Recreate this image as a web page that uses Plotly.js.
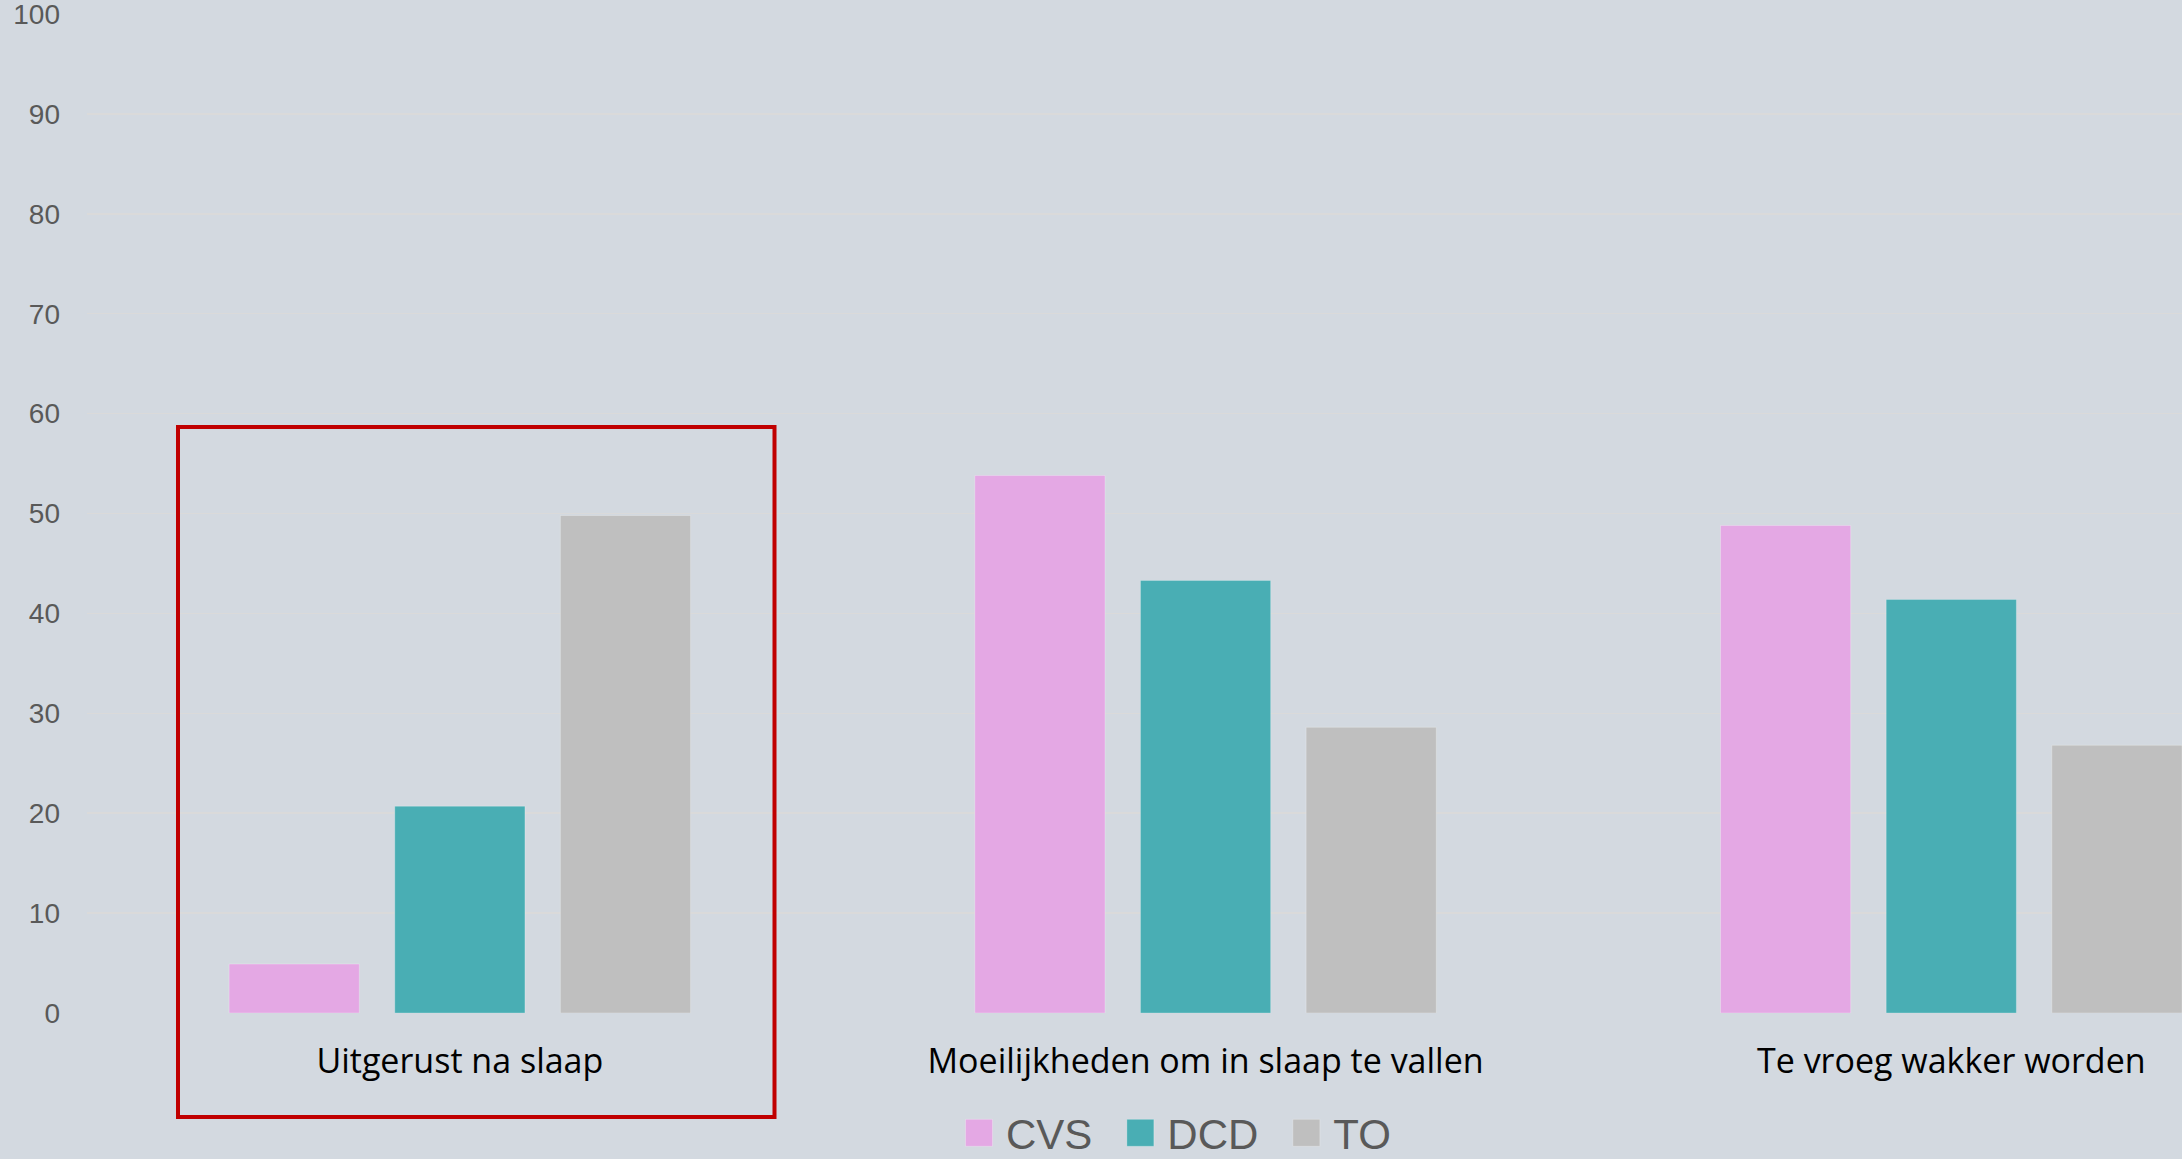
<!DOCTYPE html>
<html>
<head>
<meta charset="utf-8">
<script src="https://cdn.plot.ly/plotly-3.0.1.min.js"></script>
<style>
  html, body { margin: 0; padding: 0; background: #d3d9e0; }
  #chart { width: 2182px; height: 1159px; }
</style>
</head>
<body>
<div id="chart"></div>
<script>
const categories = ["Uitgerust na slaap", "Moeilijkheden om in slaap te vallen", "Te vroeg wakker worden"];
const seriesNames = ["CVS", "DCD", "TO"];
const cvsValues = [4.9, 53.8, 48.8];
const dcdValues = [20.7, 43.3, 41.4];
const toValues = [49.8, 28.6, 26.8];
const yTickValues = [0, 10, 20, 30, 40, 50, 60, 70, 80, 90, 100];
const seriesColors = ["#e4a8e4", "#49aeb4", "#bfbfbf"];

const seriesValues = [cvsValues, dcdValues, toValues];
const data = seriesNames.map((name, i) => ({
  type: "bar",
  name: name,
  x: categories,
  y: seriesValues[i],
  marker: { color: seriesColors[i], line: { color: "rgba(255,255,255,0.25)", width: 1 } },
  hoverinfo: "skip"
}));

const layout = {
  width: 2182,
  height: 1159,
  paper_bgcolor: "#d3d9e0",
  plot_bgcolor: "#d3d9e0",
  margin: { l: 87, r: 0, t: 14, b: 146, pad: 0, autoexpand: false },
  barmode: "group",
  bargap: 0.3336,
  bargroupgap: 0.214,
  showlegend: true,
  xaxis: {
    type: "category",
    range: [-0.5, 2.3094],
    showgrid: false,
    zeroline: false,
    showline: false,
    ticks: "",
    ticklabelstandoff: 25,
    ticklabeloverflow: "allow",
    tickfont: { family: "'Open Sans', sans-serif", size: 34, color: "#000000" },
    fixedrange: true
  },
  yaxis: {
    range: [0, 100],
    tickvals: yTickValues,
    ticktext: yTickValues.map(String),
    showgrid: true,
    gridcolor: "#dadada",
    gridwidth: 1.5,
    zeroline: false,
    showline: false,
    ticks: "",
    ticklabelstandoff: 26,
    ticklabeloverflow: "allow",
    tickfont: { family: "'Liberation Sans', Arial, sans-serif", size: 28, color: "#595959" },
    fixedrange: true
  },
  legend: {
    orientation: "h",
    x: (936 - 87) / 2095,
    xanchor: "left",
    y: (1013 - 1133) / 999,
    yanchor: "middle",
    bgcolor: "rgba(0,0,0,0)",
    itemwidth: 60,
    font: { family: "'Liberation Sans', Arial, sans-serif", size: 42, color: "#595959" },
    traceorder: "normal"
  },
  shapes: [{
    type: "rect",
    xref: "paper",
    yref: "paper",
    x0: (178 - 87) / 2095,
    x1: (774.5 - 87) / 2095,
    y0: (1013 - 1117) / 999,
    y1: (1013 - 427) / 999,
    line: { color: "#c00000", width: 4 },
    fillcolor: "rgba(0,0,0,0)",
    layer: "above"
  }]
};

Plotly.newPlot("chart", data, layout, { staticPlot: true, displayModeBar: false }).then(gd => {
  gd.querySelectorAll(".legend .legendpoints path").forEach(p => {
    p.setAttribute("d", "M21.5,13.5H-5.5V-13.5H21.5Z");
  });
});
</script>
</body>
</html>
